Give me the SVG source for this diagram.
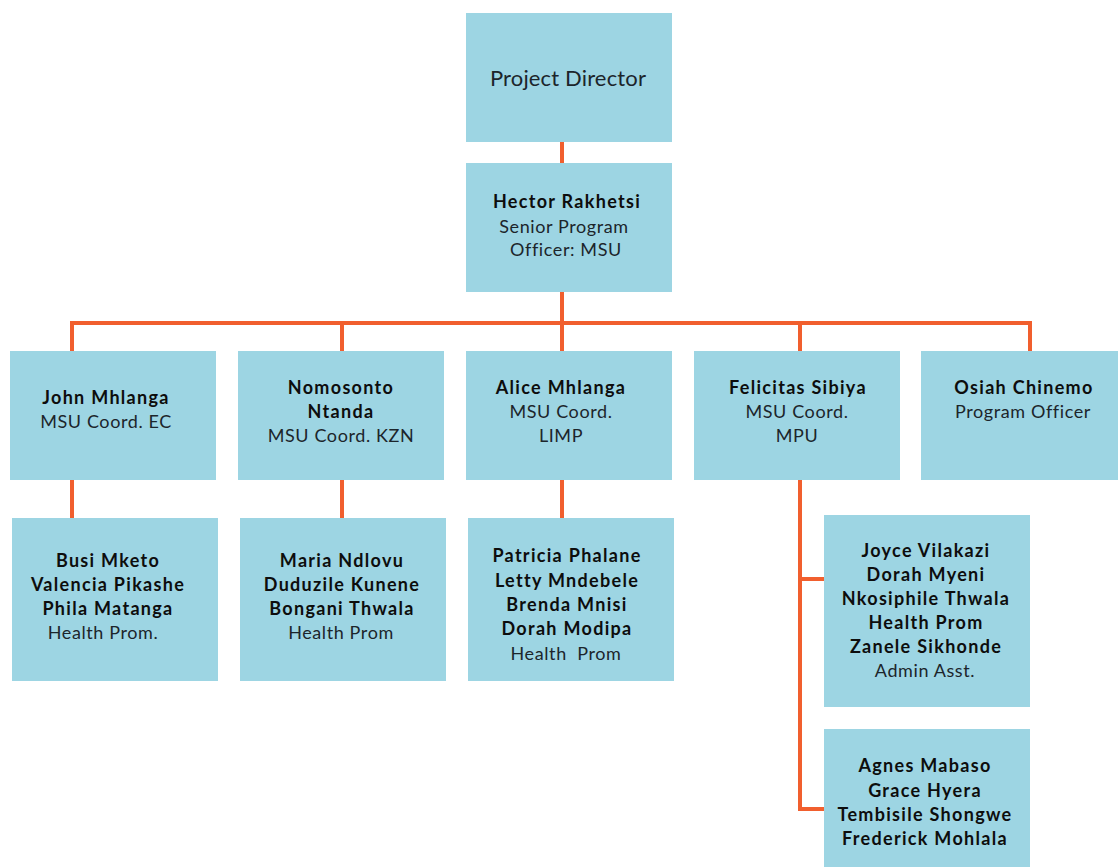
<svg xmlns="http://www.w3.org/2000/svg" width="1118" height="867" viewBox="0 0 1118 867">
<style>
.box{fill:#9dd5e3}
.ln{stroke:#f15f2e;stroke-width:4;fill:none}
text{font-family:Lato,"Liberation Sans",sans-serif;font-size:18px;letter-spacing:0.6px;text-anchor:middle;fill:#1c252b}
.b{font-weight:bold;fill:#0d0d0d;letter-spacing:1.3px}
.big{font-size:22px;letter-spacing:0.15px}
</style>
<rect width="1118" height="867" fill="#ffffff"/>
<g id="connectors">
<path class="ln" d="M562 142V163M562 292V351M72 351V323H1030V351M342 323V351M800 323V351"/>
<path class="ln" d="M72 480V518M342 480V518M562 480V518"/>
<path class="ln" d="M800 480V809H824M800 579H824"/>
</g>
<g id="director"><rect class="box" x="466" y="13" width="206" height="129"/><text class="big" x="568" y="86">Project Director</text></g>
<g id="hector"><rect class="box" x="466" y="163" width="206" height="129"/>
<text class="b" x="567" y="208">Hector Rakhetsi</text><text x="564" y="233">Senior Program</text><text x="566" y="256">Officer: MSU</text></g>
<g id="john"><rect class="box" x="10" y="351" width="206" height="129"/>
<text class="b" x="106" y="404">John Mhlanga</text><text x="106" y="428">MSU Coord. EC</text></g>
<g id="nomosonto"><rect class="box" x="238" y="351" width="206" height="129"/>
<text class="b" x="341" y="394">Nomosonto</text><text class="b" x="341" y="418">Ntanda</text><text x="341" y="442">MSU Coord. KZN</text></g>
<g id="alice"><rect class="box" x="466" y="351" width="206" height="129"/>
<text class="b" x="561" y="394">Alice Mhlanga</text><text x="561" y="418">MSU Coord.</text><text x="561" y="442">LIMP</text></g>
<g id="felicitas"><rect class="box" x="694" y="351" width="206" height="129"/>
<text class="b" x="798" y="394">Felicitas Sibiya</text><text x="797" y="418">MSU Coord.</text><text x="797" y="442">MPU</text></g>
<g id="osiah"><rect class="box" x="921" y="351" width="197" height="129"/>
<text class="b" x="1024" y="394">Osiah Chinemo</text><text x="1023" y="418">Program Officer</text></g>
<g id="busi"><rect class="box" x="12" y="518" width="206" height="163"/>
<text class="b" x="108" y="567">Busi Mketo</text><text class="b" x="108" y="591">Valencia Pikashe</text><text class="b" x="108" y="615">Phila Matanga</text><text x="103" y="639">Health Prom.</text></g>
<g id="maria"><rect class="box" x="240" y="518" width="206" height="163"/>
<text class="b" x="342" y="567">Maria Ndlovu</text><text class="b" x="342" y="591">Duduzile Kunene</text><text class="b" x="342" y="615">Bongani Thwala</text><text x="341" y="639">Health Prom</text></g>
<g id="patricia"><rect class="box" x="468" y="518" width="206" height="163"/>
<text class="b" x="567" y="562">Patricia Phalane</text><text class="b" x="567" y="587">Letty Mndebele</text><text class="b" x="567" y="611">Brenda Mnisi</text><text class="b" x="567" y="635">Dorah Modipa</text><text x="566" y="660" xml:space="preserve">Health  Prom</text></g>
<g id="joyce"><rect class="box" x="824" y="515" width="206" height="192"/>
<text class="b" x="926" y="557">Joyce Vilakazi</text><text class="b" x="926" y="581">Dorah Myeni</text><text class="b" x="926" y="605">Nkosiphile Thwala</text><text class="b" x="926" y="629">Health Prom</text><text class="b" x="926" y="653">Zanele Sikhonde</text><text x="925" y="677">Admin Asst.</text></g>
<g id="agnes"><rect class="box" x="824" y="729" width="206" height="138"/>
<text class="b" x="925" y="772">Agnes Mabaso</text><text class="b" x="925" y="797">Grace Hyera</text><text class="b" x="925" y="821">Tembisile Shongwe</text><text class="b" x="925" y="845">Frederick Mohlala</text></g>
</svg>
